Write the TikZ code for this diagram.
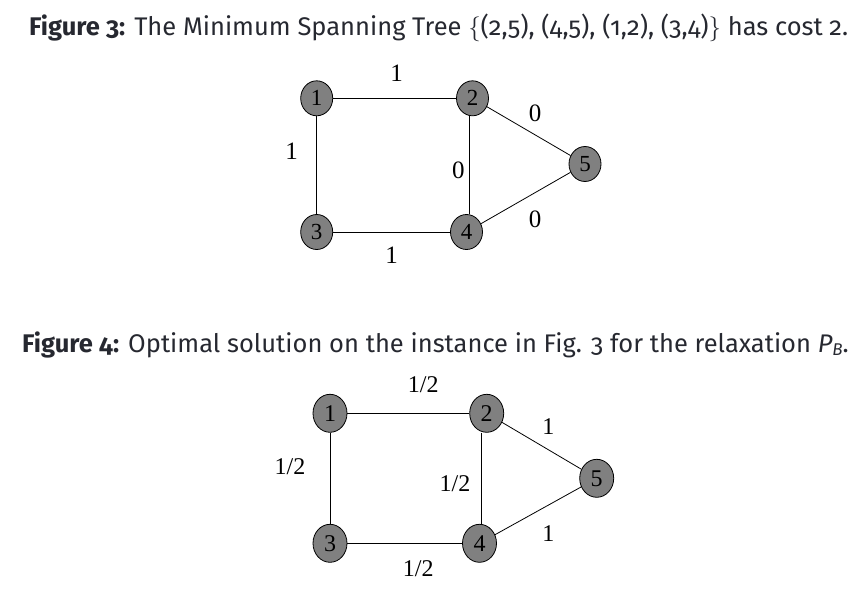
\documentclass[tikz,border=0pt]{standalone}
\usepackage{fontspec}
\setmainfont{Liberation Serif}
\newfontfamily\capfont[Numbers=OldStyle]{Fira Sans}
\usetikzlibrary{shapes.geometric}
\definecolor{captxt}{HTML}{262830}
\definecolor{nodegray}{HTML}{808080}
\tikzset{
  vtx/.style={ellipse, draw=black, line width=0.8pt, fill=nodegray, inner sep=0pt,
    minimum width=32pt, minimum height=35pt, font=\fontsize{23}{23}\selectfont},
  vtxb/.style={vtx, minimum width=34pt, minimum height=38pt, font=\fontsize{24}{24}\selectfont},
  edge/.style={draw=black, line width=0.8pt},
  lbl/.style={inner sep=0pt, font=\fontsize{25}{25}\selectfont},
  lblb/.style={inner sep=0pt, font=\fontsize{24}{24}\selectfont},
  captext/.style={inner sep=0pt, anchor=base west, text=captxt, font=\capfont\fontsize{25.5}{25.5}\selectfont}
}
\begin{document}
\begin{tikzpicture}[x=1pt,y=-1pt]
\useasboundingbox (0,0) rectangle (861,594);
% captions
\node[captext] (c3) at (29,36) {\textbf{Figure 3:} The Minimum Spanning Tree $\{$(2,5), (4,5), (1,2), (3,4)$\}$ has cost 2.};
\node[captext] (c4) at (22,352) {\textbf{Figure 4:} Optimal solution on the instance in Fig. 3 for the relaxation {\itshape P}\raisebox{-0.25ex}{\fontsize{17}{17}\selectfont\itshape B}.};
% figure 3
\node[vtx] (a1) at (316.7,98.3) {1};
\node[vtx] (a2) at (472.5,98.3) {2};
\node[vtx] (a5) at (585,164) {5};
\node[vtx] (a3) at (316.7,232) {3};
\node[vtx] (a4) at (466.5,232) {4};
\draw[edge] (a1) -- (a2);
\draw[edge] (a1) -- (a3);
\draw[edge] (a3) -- (a4);
\draw[edge] (469.3,98.3) coordinate (t2) (a2.south -| t2) -- (a4.north -| t2);
\draw[edge] (a2) -- (a5);
\draw[edge] (a4) -- (a5);
\node[lbl] (l12) at (396.7,73.3) {1};
\node[lbl] (l13) at (291.7,151.7) {1};
\node[lbl] (l24) at (458.3,170) {0};
\node[lbl] (l25) at (535,113.3) {0};
\node[lbl] (l45) at (535,219.3) {0};
\node[lbl] (l34) at (391.7,255) {1};
% figure 4
\node[vtxb] (b1) at (330,413.3) {1};
\node[vtxb] (b2) at (486.7,413.3) {2};
\node[vtxb] (b5) at (596.7,478.3) {5};
\node[vtxb] (b3) at (330,543.3) {3};
\node[vtxb] (b4) at (479.5,543.3) {4};
\draw[edge] (b1) -- (b2);
\draw[edge] (b1) -- (b3);
\draw[edge] (b3) -- (b4);
\draw[edge] (481.7,413.3) coordinate (u2) (b2.south -| u2) -- (b4.north -| u2);
\draw[edge] (b2) -- (b5);
\draw[edge] (b4) -- (b5);
\node[lblb] (m12) at (423.3,385) {1/2};
\node[lblb] (m13) at (290,466.7) {1/2};
\node[lblb] (m24) at (455,483.3) {1/2};
\node[lblb] (m25) at (548.3,426.7) {1};
\node[lblb] (m45) at (548.3,533.3) {1};
\node[lblb] (m34) at (418.3,568.3) {1/2};
\end{tikzpicture}
\end{document}
